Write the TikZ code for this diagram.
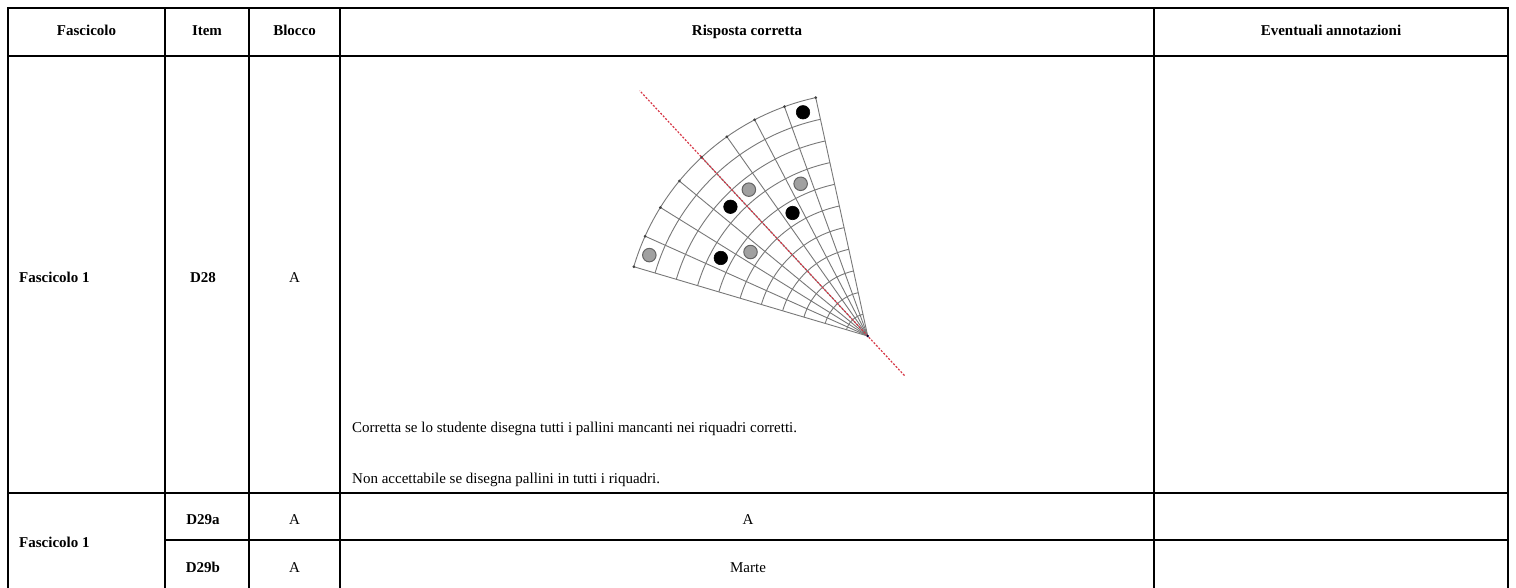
\documentclass[tikz,border=0pt]{standalone}
\usepackage{fontspec}
\setmainfont{Liberation Serif}
\definecolor{gridgray}{RGB}{120,120,120}
\definecolor{dotgray}{RGB}{160,160,160}
\definecolor{dotedge}{RGB}{100,100,100}
\definecolor{axisred}{RGB}{215,55,70}
\tikzset{
  rule/.style={line width=1.2pt, draw=black},
  hdr/.style={font=\fontsize{15}{18}\selectfont\bfseries, anchor=base, inner sep=0pt},
  cell/.style={font=\fontsize{15}{18}\selectfont, anchor=base, inner sep=0pt},
  gridline/.style={draw=gridgray, line width=0.9pt},
  tick/.style={fill=gridgray!55!black},
  bdot/.style={circle, fill=black, draw=black, line width=0.6pt, minimum size=13.5pt, inner sep=0pt},
  gdot/.style={circle, fill=dotgray, draw=dotedge, line width=1pt, minimum size=13.5pt, inner sep=0pt},
  redline/.style={draw=axisred, line width=1.2pt, dash pattern=on 2pt off 1.6pt}
}
\begin{document}
\begin{tikzpicture}[x=1pt,y=-1pt]
\useasboundingbox (0,0) rectangle (1516,587);
\fill[white] (0,0) rectangle (1516,587);

% table rules
\draw[rule] (8,8) rectangle (1508,589);
\draw[rule] (8,56) -- (1508,56);
\draw[rule] (8,493) -- (1508,493);
\draw[rule] (165,540) -- (1508,540);
\foreach \x in {165,249,340,1154} \draw[rule] (\x,8) -- (\x,589);

% header
\node[hdr] (h1) at (86.5,35) {Fascicolo};
\node[hdr] (h2) at (207,35) {Item};
\node[hdr] (h3) at (294.5,35) {Blocco};
\node[hdr] (h4) at (747,35) {Risposta corretta};
\node[hdr] (h5) at (1331,35) {Eventuali annotazioni};

% row D28
\node[hdr, anchor=base west] (f1) at (19,282) {Fascicolo 1};
\node[hdr] (i1) at (203,282) {D28};
\node[cell] (b1) at (294.5,282) {A};
\node[cell, anchor=base west] (t1) at (352,432) {Corretta se lo studente disegna tutti i pallini mancanti nei riquadri corretti.};
\node[cell, anchor=base west] (t2) at (352,483) {Non accettabile se disegna pallini in tutti i riquadri.};

% rows D29
\node[hdr, anchor=base west] (f2) at (19,547) {Fascicolo 1};
\node[hdr] (i2) at (203,524) {D29a};
\node[cell] (b2) at (294.5,524) {A};
\node[cell] (r2) at (748,524) {A};
\node[hdr] (i3) at (203,572) {D29b};
\node[cell] (b3) at (294.5,572) {A};
\node[cell] (r3) at (748,572) {Marte};

% fan diagram
\coordinate (apex) at (867.7,336);
\begin{scope}[shift={(apex)}, y=1pt]
  \def\aA{102.3}
  \def\aB{163.5}
  \def\st{7.65}
  \def\dr{22.18}
  \foreach \j in {1,...,11}
    \draw[gridline] ({\aA}:{\j*\dr pt}) arc[start angle=\aA, end angle=\aB, radius={\j*\dr pt}];
  \foreach \k in {0,...,8}
    \draw[gridline] (0,0) -- ({\aA+\k*\st}:{11*\dr pt});
  \foreach \k in {0,...,8}
    \fill[tick] ({\aA+\k*\st}:{11*\dr pt}) circle (1.5pt);
  \coordinate (rtop) at (132.9:335pt);
  \coordinate (rbot) at (-47.1:54pt);
  \draw[redline] (rbot) -- (rtop);
  \fill[black!80!blue] (0,0) circle (1.4pt);
  % black dots
  \node[bdot] (k1) at ({\aA+0.5*\st}:{10.5*\dr pt}) {};
  \node[bdot] (k2) at ({\aA+4.5*\st}:{8.5*\dr pt}) {};
  \node[bdot] (k3) at ({\aA+2.5*\st}:{6.5*\dr pt}) {};
  \node[bdot] (k4) at ({\aA+6.5*\st}:{7.5*\dr pt}) {};
  % grey dots
  \node[gdot] (g1) at ({\aA+3.5*\st}:{8.5*\dr pt}) {};
  \node[gdot] (g2) at ({\aA+1.5*\st}:{7.5*\dr pt}) {};
  \node[gdot] (g3) at ({\aA+5.5*\st}:{6.5*\dr pt}) {};
  \node[gdot] (g4) at ({\aA+7.5*\st}:{10.5*\dr pt}) {};
\end{scope}
\end{tikzpicture}
\end{document}
